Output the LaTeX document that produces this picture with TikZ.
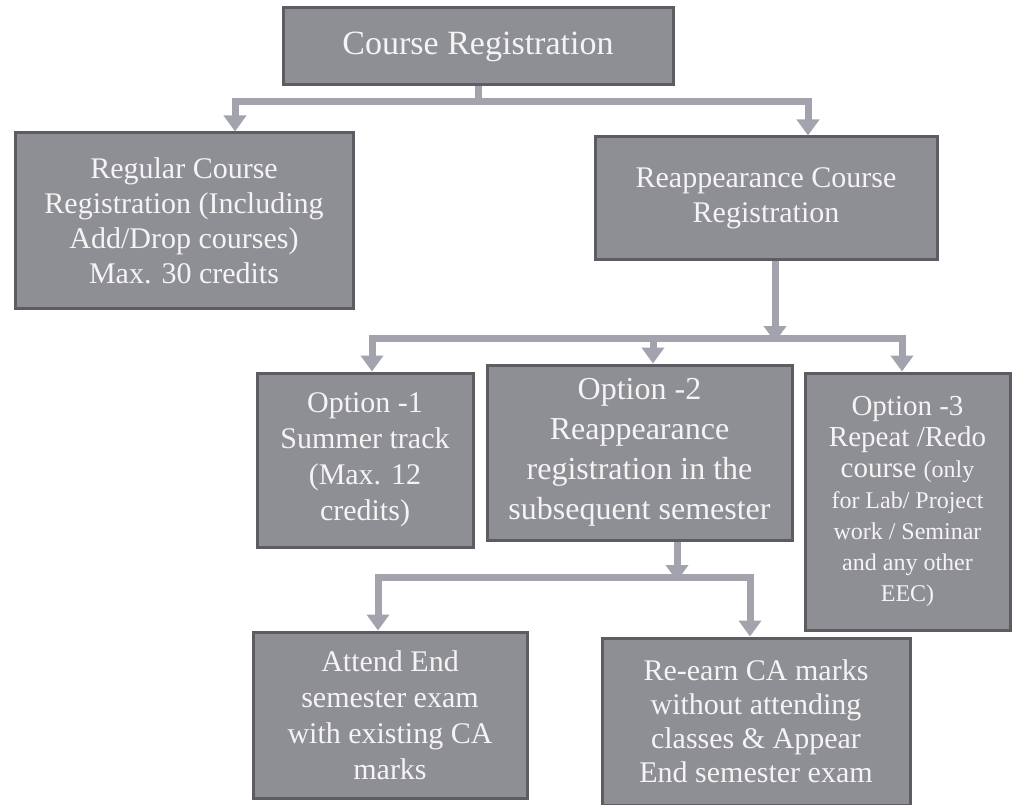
\documentclass[tikz,border=0pt]{standalone}
\usepackage{fontspec}
\setmainfont{Liberation Serif}
\usetikzlibrary{arrows.meta,calc}
\definecolor{boxfill}{HTML}{8E8E95}
\definecolor{boxline}{HTML}{5C5C62}
\definecolor{connc}{HTML}{A3A3AE}
\definecolor{txtc}{HTML}{F4F4F4}
\tikzset{
  box/.style={draw=boxline, line width=3pt, fill=boxfill, text=txtc, align=center,
    inner sep=0pt, font=\fontsize{30}{35}\selectfont},
  conn/.style={draw=connc, line width=7pt},
  conna/.style={conn, -{Triangle[width=22pt,length=16pt]}},
}
\begin{document}
\begin{tikzpicture}[x=1pt,y=-1pt]
\useasboundingbox (0,0) rectangle (1015,805);
\fill[white] (0,0) rectangle (1015,805);

\node[box, minimum width=390pt, minimum height=77pt, font=\fontsize{34}{40}\selectfont] (cr) at (478,46.5) {Course Registration};
\node[box, minimum width=338pt, minimum height=175pt] (reg) at (184,220.5)
  {Regular Course\\Registration (Including\\Add/Drop courses)\\Max. 30 credits};
\node[box, minimum width=342pt, minimum height=123pt] (rea) at (766,198.5)
  {Reappearance Course\\Registration};
\node[box, minimum width=216pt, minimum height=174pt, font=\fontsize{30}{36}\selectfont] (o1) at (365,460)
  {Option -1\\Summer track\\(Max. 12\\credits)};
\node[box, minimum width=305pt, minimum height=175pt, font=\fontsize{32}{40}\selectfont] (o2) at (639.5,452.5)
  {Option -2\\Reappearance\\registration in the\\subsequent semester};
\node[box, minimum width=205pt, minimum height=257pt, font=\fontsize{29}{31}\selectfont] (o3) at (907.5,501.5)
  {Option -3\\Repeat /Redo\\course {\fontsize{24}{31}\selectfont (only}\\
   {\fontsize{24}{31}\selectfont for Lab/ Project}\\
   {\fontsize{24}{31}\selectfont work / Seminar}\\
   {\fontsize{24}{31}\selectfont and any other}\\
   {\fontsize{24}{31}\selectfont EEC)}};
\node[box, minimum width=274pt, minimum height=166pt, font=\fontsize{30}{36}\selectfont] (att) at (390,715)
  {Attend End\\semester exam\\with existing CA\\marks};
\node[box, minimum width=308pt, minimum height=167pt, font=\fontsize{30}{34}\selectfont] (ree) at (756,721.5)
  {Re-earn CA marks\\without attending\\classes \& Appear\\End semester exam};

% level 1
\coordinate (j1) at ($(cr.south)+(0,15)$);
\draw[conn] (cr.south) -- (j1);
\draw[conna] (j1) -| ([xshift=51pt]reg.north);
\draw[conna] (j1) -| ([xshift=42pt]rea.north);

% level 2
\coordinate (j2) at ([xshift=9pt]rea.south |- 0,338);
\draw[conna] ([xshift=9pt]rea.south) -- ([yshift=-4pt]j2);
\draw[conna] (j2) -| ([xshift=7pt]o1.north);
\draw[conna] (j2) -| ([xshift=13.5pt]o2.north);
\draw[conna] (j2) -| ([xshift=-5.5pt]o3.north);

% level 3
\coordinate (j3) at ([xshift=37.5pt]o2.south |- 0,577);
\draw[conna] ([xshift=37.5pt]o2.south) -- ([yshift=-4pt]j3);
\draw[conna] (j3) -| ([xshift=-12pt]att.north);
\draw[conna] (j3) -| ([xshift=-6pt]ree.north);
\end{tikzpicture}
\end{document}
